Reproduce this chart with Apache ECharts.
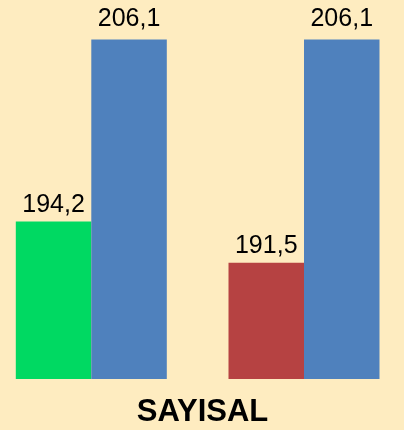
<!DOCTYPE html>
<html><head><meta charset="utf-8">
<script src="https://cdn.jsdelivr.net/npm/echarts@6/dist/echarts.min.js"></script>
<style>html,body{margin:0;padding:0;background:#FEECC0}#c{width:404px;height:430px}</style>
</head><body><div id="c"></div>
<script>
const categories = ['A', 'B'];
const firstValues = [194.2, 191.5];
const firstColors = ['#00D962', '#B64242'];
const secondValues = [206.1, 206.1];
const title = 'SAYISAL';
const axisMin = 183.9;

const fmt = p => String(p.value).replace('.', ',');
const chart = echarts.init(document.getElementById('c'));
chart.setOption({
  backgroundColor: '#FEECC0',
  animation: false,
  title: {
    text: title, left: 197.5, top: 392, textAlign: 'center',
    textStyle: {fontFamily: 'Liberation Sans', fontWeight: 'bold', fontSize: 31, color: '#000'}
  },
  grid: {left: 91.3, right: 100, top: 10.4, bottom: 51},
  xAxis: {type: 'category', data: categories, show: false, boundaryGap: false},
  yAxis: {type: 'value', min: axisMin, max: 208, startValue: axisMin, show: false},
  series: [
    {type: 'bar', barWidth: 75.5, barGap: '0%', clip: false,
     data: firstValues.map((v, i) => ({value: v, itemStyle: {color: firstColors[i]}})),
     label: {show: true, position: 'top', distance: 4, formatter: fmt,
       fontFamily: 'Liberation Sans', fontSize: 25, color: '#000'}},
    {type: 'bar', barWidth: 75.5, clip: false, data: secondValues, itemStyle: {color: '#4F81BD'},
     label: {show: true, position: 'top', distance: 8, formatter: fmt,
       fontFamily: 'Liberation Sans', fontSize: 25, color: '#000'}}
  ]
});
</script></body></html>
